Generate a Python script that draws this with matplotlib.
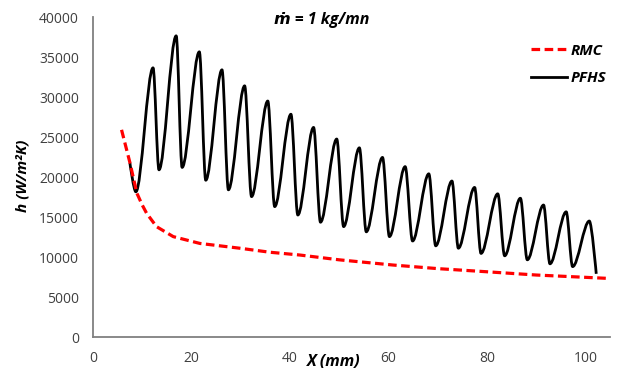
import matplotlib
matplotlib.use("Agg")
import matplotlib.pyplot as plt
from matplotlib.path import Path
from matplotlib.patches import PathPatch
from matplotlib.lines import Line2D

# RMC curve
rmc_x = [5.8, 7.5, 8.9, 10.0, 10.9, 12.9, 16.3, 21.7, 29.8, 35.9, 42.0, 50.0,
         60.9, 70.0, 79.9, 90.0, 104.2]
rmc_y = [25900, 21800, 18000, 16500, 15460, 13800, 12550, 11700, 11100, 10600,
         10250, 9650, 9000, 8550, 8160, 7750, 7340]

# PFHS curve: start, then alternating troughs and peaks, then end
pfhs_x = [7.5, 8.7, 12.2, 13.4, 16.9, 18.1, 21.6, 22.9, 26.2, 27.5, 30.8, 32.2,
          35.5, 36.9, 40.2, 41.6, 44.8, 46.2, 49.5, 50.9, 54.1, 55.5, 58.8, 60.2,
          63.4, 64.9, 68.2, 69.6, 72.9, 74.2, 77.5, 78.8, 82.2, 83.6, 86.8, 88.2,
          91.5, 92.8, 96.1, 97.4, 100.8, 102.2]
pfhs_y = [21750, 18150, 33650, 20900, 37650, 21200, 35650, 19600, 33400, 18400,
          31400, 17550, 29500, 16300, 27850, 15250, 26200, 14350, 24750, 13800,
          23650, 13150, 22450, 12550, 21300, 12000, 20400, 11400, 19500, 11100,
          18700, 10450, 17900, 10150, 17350, 9650, 16500, 9150, 15650, 8800,
          14500, 7900]

x_ticks = [0, 20, 40, 60, 80, 100]
y_ticks = [0, 5000, 10000, 15000, 20000, 25000, 30000, 35000, 40000]

plt.rcParams['font.family'] = ['Open Sans', 'DejaVu Sans']

fig = plt.figure(figsize=(6.17, 3.71), dpi=100)
ax = fig.add_axes([0.1507, 0.0916, 0.838, 0.8625])

ax.plot(rmc_x, rmc_y, color='#ff0000', lw=2.3, dashes=(2.7, 1.4))

# smooth PFHS line: cubic segments with flat tangents at the extrema
verts = [(pfhs_x[0], pfhs_y[0])]
codes = [Path.MOVETO]
n = len(pfhs_x)
for i in range(n - 1):
    x0, y0 = pfhs_x[i], pfhs_y[i]
    x1, y1 = pfhs_x[i + 1], pfhs_y[i + 1]
    dx = (x1 - x0) / 3
    c1 = (x0, y0) if i == 0 else (x0 + dx, y0)
    c2 = (x1, y1) if i == n - 2 else (x1 - dx, y1)
    verts += [c1, c2, (x1, y1)]
    codes += [Path.CURVE4] * 3
ax.add_patch(PathPatch(Path(verts, codes), fc='none', ec='black', lw=2.0,
                       joinstyle='round', capstyle='butt'))

ax.set_xlim(0, 105)
ax.set_ylim(0, 40000)
ax.set_xticks(x_ticks)
ax.set_yticks(y_ticks)
ax.tick_params(length=0, pad=10, labelsize=10, labelcolor='#404040')

for s in ['top', 'right']:
    ax.spines[s].set_visible(False)
for s in ['left', 'bottom']:
    ax.spines[s].set_color('#808080')
    ax.spines[s].set_linewidth(1.3)

bi = dict(fontweight='bold', fontstyle='italic', fontsize=11)
ax.set_ylabel('h (W/m²K)', **bi)
ax.yaxis.set_label_coords(-0.122, 0.505)
ax.set_xlabel('X (mm)', fontweight='bold', fontstyle='italic', fontsize=11.5)
ax.xaxis.set_label_coords(0.466, -0.078)
ax.xaxis.label.set_va('center')

fig.text(322 / 617, 1 - 20 / 371, 'ṁ = 1 kg/mn', ha='center', va='center',
         fontweight='bold', fontstyle='italic', fontsize=11.5)

handles = [Line2D([], [], color='#ff0000', lw=2.3, dashes=(2.7, 1.4)),
           Line2D([], [], color='black', lw=2.0)]
ax.legend(handles, ['RMC', 'PFHS'], loc='upper left', bbox_to_anchor=(0.82, 0.96),
          frameon=False, handlelength=2.4, handletextpad=0.2, labelspacing=0.9,
          prop=dict(weight='bold', style='italic', size=11))

fig.savefig('out.png', dpi=100)
